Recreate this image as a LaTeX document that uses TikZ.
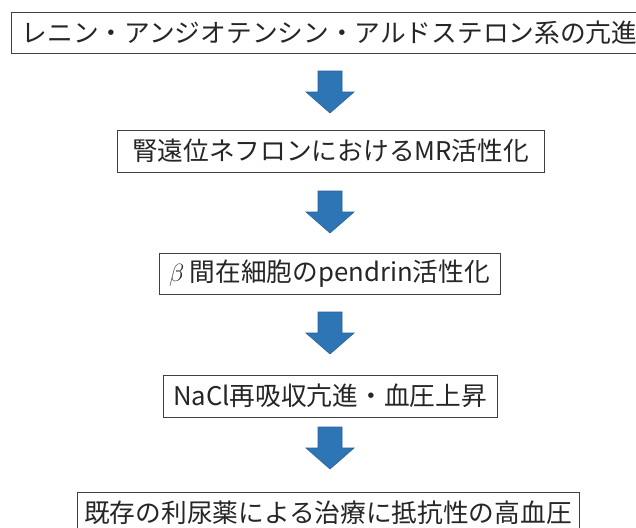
\documentclass[tikz,border=0pt]{standalone}
\usepackage{fontspec}
\setmainfont{Noto Sans CJK JP}
\definecolor{arrowfill}{RGB}{46,117,182}
\definecolor{arrowline}{RGB}{40,96,150}
\definecolor{boxline}{RGB}{64,64,64}
\begin{document}
\begin{tikzpicture}[x={(1pt,0pt)}, y={(0pt,-1pt)},
  flowbox/.style={draw=boxline, line width=0.9pt, fill=white, inner sep=0pt,
    font=\fontsize{25.7}{30}\selectfont, text=black!85, anchor=center},
  blockarrow/.pic={
    \fill[arrowfill, draw=arrowline, line width=0.6pt, line join=miter]
      (-12,-21) -- (12,-21) -- (12,0) -- (24,0) -- (0,21) -- (-24,0) -- (-12,0) -- cycle;
  }]
\useasboundingbox (0,0) rectangle (636,527);
\node[flowbox, minimum width=637, minimum height=41] (b1) at (329.5,32.5) {レニン・アンジオテンシン・アルドステロン系の亢進};
\node[flowbox, minimum width=427, minimum height=42] (b2) at (330.5,151) {腎遠位ネフロンにおけるMR活性化};
\node[flowbox, minimum width=341, minimum height=41] (b3) at (329.5,273.5) {$\beta$ 間在細胞のpendrin活性化};
\node[flowbox, minimum width=334, minimum height=42] (b4) at (330,396) {NaCl再吸収亢進・血圧上昇};
\node[flowbox, minimum width=502, minimum height=42] (b5) at (328,513) {既存の利尿薬による治療に抵抗性の高血圧};
\coordinate (a1) at (330,92);
\coordinate (a2) at (330,212);
\coordinate (a3) at (330,333);
\coordinate (a4) at (330,448);
\pic at (a1) {blockarrow};
\pic at (a2) {blockarrow};
\pic at (a3) {blockarrow};
\pic at (a4) {blockarrow};
\end{tikzpicture}
\end{document}
